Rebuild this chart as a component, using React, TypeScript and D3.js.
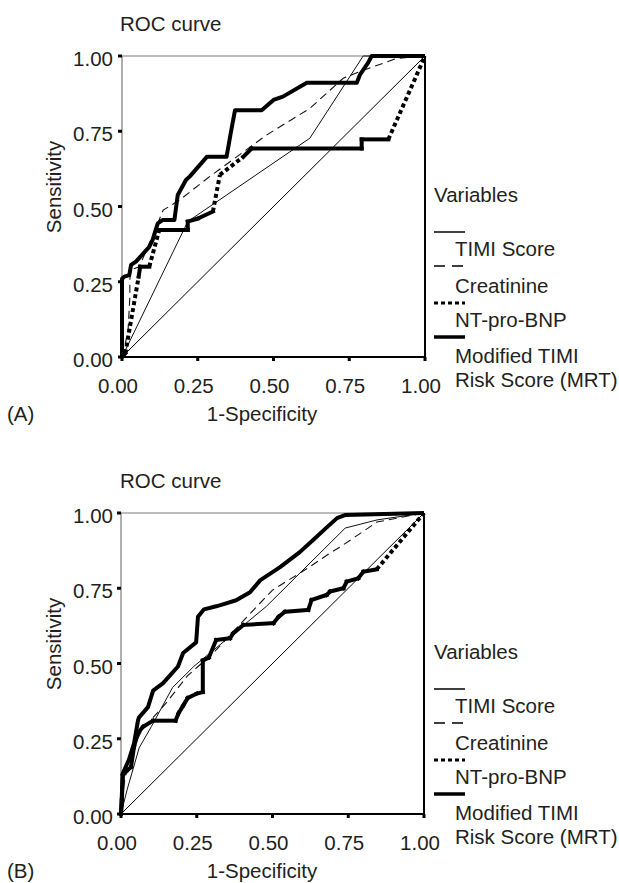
import React, { useRef, useEffect } from 'react';
import * as d3 from 'd3';

type Pt = [number, number];

// axis ticks
const tickValues = [0, 0.25, 0.5, 0.75, 1];
const tickLabels = ['0.00', '0.25', '0.50', '0.75', '1.00'];

// legend entries
const legendNames = ['TIMI Score', 'Creatinine', 'NT-pro-BNP', 'Modified TIMI|Risk Score (MRT)'];
const panelTags = ['(A)', '(B)'];

// panel A curves (1-specificity, sensitivity)
const timiA: Pt[] = [[0, 0], [0.01, 0.02], [0.217, 0.45], [0.62, 0.727], [0.796, 1], [1, 1]];
const creatA: Pt[] = [
  [0, 0], [0.01, 0.04], [0.02, 0.09], [0.026, 0.2], [0.026, 0.26], [0.03, 0.29], [0.057, 0.3],
  [0.1, 0.4], [0.136, 0.488], [0.191, 0.522], [0.29, 0.6], [0.478, 0.738], [0.62, 0.826],
  [0.73, 0.926], [0.797, 0.953], [0.907, 0.992], [1, 1],
];
const bnpA: Pt[] = [
  [0, 0], [0.011, 0.012], [0.055, 0.267], [0.06, 0.3], [0.09, 0.3], [0.123, 0.422], [0.217, 0.422],
  [0.217, 0.45], [0.25, 0.46], [0.3, 0.483], [0.323, 0.605], [0.4, 0.665], [0.428, 0.693],
  [0.791, 0.693], [0.791, 0.723], [0.879, 0.723], [1, 1],
];
const mrtA: Pt[] = [
  [0, 0], [0, 0.26], [0.008, 0.267], [0.024, 0.272], [0.03, 0.306], [0.046, 0.317], [0.09, 0.366],
  [0.101, 0.389], [0.118, 0.444], [0.134, 0.455], [0.173, 0.455], [0.184, 0.538], [0.211, 0.588],
  [0.224, 0.6], [0.28, 0.665], [0.345, 0.665], [0.36, 0.75], [0.373, 0.82], [0.461, 0.82],
  [0.5, 0.854], [0.531, 0.865], [0.61, 0.911], [0.775, 0.911], [0.785, 0.937], [0.812, 0.977],
  [0.824, 1], [1, 1],
];

// panel B curves
const timiB: Pt[] = [
  [0, 0], [0.02, 0.08], [0.06, 0.22], [0.1, 0.29], [0.17, 0.42], [0.24, 0.49], [0.48, 0.69],
  [0.74, 0.95], [0.845, 0.977], [1, 1],
];
const creatB: Pt[] = [
  [0, 0], [0.01, 0.1], [0.03, 0.2], [0.07, 0.28], [0.15, 0.37], [0.22, 0.46], [0.3, 0.53],
  [0.416, 0.655], [0.5, 0.744], [0.617, 0.817], [0.69, 0.867], [0.723, 0.887], [0.845, 0.97], [1, 1],
];
const bnpB: Pt[] = [
  [0, 0], [0.003, 0.05], [0.006, 0.13], [0.033, 0.156], [0.043, 0.223], [0.056, 0.27], [0.073, 0.29],
  [0.106, 0.31], [0.18, 0.31], [0.19, 0.335], [0.205, 0.36], [0.22, 0.385], [0.25, 0.4], [0.27, 0.405],
  [0.27, 0.51], [0.29, 0.52], [0.314, 0.578], [0.36, 0.584], [0.37, 0.6], [0.404, 0.628],
  [0.503, 0.634], [0.52, 0.655], [0.541, 0.672], [0.618, 0.678], [0.629, 0.711], [0.679, 0.728],
  [0.69, 0.739], [0.734, 0.75], [0.745, 0.772], [0.783, 0.783], [0.8, 0.805], [0.844, 0.813], [1, 1],
];
const mrtB: Pt[] = [
  [0, 0], [0.006, 0.135], [0.026, 0.18], [0.043, 0.235], [0.056, 0.31], [0.059, 0.32], [0.089, 0.355],
  [0.106, 0.41], [0.139, 0.435], [0.188, 0.49], [0.205, 0.535], [0.248, 0.57], [0.254, 0.655],
  [0.274, 0.68], [0.314, 0.69], [0.347, 0.7], [0.38, 0.71], [0.426, 0.737], [0.46, 0.777],
  [0.525, 0.82], [0.59, 0.87], [0.634, 0.91], [0.68, 0.953], [0.713, 0.983], [0.739, 0.993], [1, 1],
];

const FONT = '"Liberation Sans", Arial, Helvetica, sans-serif';
const INK = '#231f20';

const App = () => {
  const ref = useRef<SVGSVGElement>(null);

  useEffect(() => {
    const svg = d3.select(ref.current);
    svg.selectAll('*').remove();

    const panels = [
      { tag: panelTags[0], left: 122, oy: 0, timi: timiA, creat: creatA, bnp: bnpA, mrt: mrtA },
      { tag: panelTags[1], left: 121, oy: 457, timi: timiB, creat: creatB, bnp: bnpB, mrt: mrtB },
    ];

    panels.forEach((p) => {
      const top = 56 + p.oy;
      const x = d3.scaleLinear().domain([0, 1]).range([p.left, p.left + 303]);
      const y = d3.scaleLinear().domain([0, 1]).range([top + 301, top]);
      const g = svg.append('g').attr('font-family', FONT).attr('font-size', 20.5).attr('fill', INK);

      g.append('text').attr('x', 120).attr('y', 31 + p.oy).text('ROC curve');

      // frame: light left/top, heavy right/bottom
      g.append('line').attr('x1', x(0)).attr('x2', x(1)).attr('y1', y(1)).attr('y2', y(1))
        .attr('stroke', '#7a7a7a').attr('stroke-width', 1.2);
      g.append('line').attr('x1', x(0)).attr('x2', x(0)).attr('y1', y(0)).attr('y2', y(1))
        .attr('stroke', '#7a7a7a').attr('stroke-width', 1.2);
      g.append('line').attr('x1', x(1)).attr('x2', x(1)).attr('y1', y(0) + 1).attr('y2', y(1))
        .attr('stroke', '#000').attr('stroke-width', 2);
      g.append('line').attr('x1', x(0)).attr('x2', x(1) + 1).attr('y1', y(0)).attr('y2', y(0))
        .attr('stroke', '#000').attr('stroke-width', 2);

      // ticks
      g.selectAll('.yt').data(tickValues).enter().append('line')
        .attr('x1', x(0) - 4).attr('x2', x(0)).attr('y1', (d) => y(d)).attr('y2', (d) => y(d))
        .attr('stroke', '#000').attr('stroke-width', 3);
      g.selectAll('.xt').data(tickValues).enter().append('line')
        .attr('x1', (d) => x(d)).attr('x2', (d) => x(d)).attr('y1', y(0)).attr('y2', y(0) + 4)
        .attr('stroke', '#000').attr('stroke-width', 3);

      g.selectAll('.yl').data(tickValues).enter().append('text')
        .attr('x', 113).attr('y', (d) => y(d) + 10).attr('text-anchor', 'end')
        .text((d, i) => tickLabels[i]);
      g.selectAll('.xl').data(tickValues).enter().append('text')
        .attr('x', (d) => x(d) - 4).attr('y', 393 + p.oy).attr('text-anchor', 'middle')
        .text((d, i) => tickLabels[i]);

      g.append('text').attr('x', 262).attr('y', 421 + p.oy).attr('text-anchor', 'middle').text('1-Specificity');
      g.append('text').attr('x', 7).attr('y', 421 + p.oy).text(p.tag);
      g.append('text').attr('transform', `translate(61,${187 + p.oy}) rotate(-90)`)
        .attr('text-anchor', 'middle').text('Sensitivity');

      const line = d3.line<Pt>().x((d) => x(d[0])).y((d) => y(d[1]));

      // reference diagonal
      g.append('path').datum([[0, 0], [1, 1]] as Pt[]).attr('d', line)
        .attr('fill', 'none').attr('stroke', '#000').attr('stroke-width', 1);

      g.append('path').datum(p.timi).attr('d', line)
        .attr('fill', 'none').attr('stroke', '#111').attr('stroke-width', 1);
      g.append('path').datum(p.creat).attr('d', line)
        .attr('fill', 'none').attr('stroke', '#111').attr('stroke-width', 1.1).attr('stroke-dasharray', '8,5');

      // NT-pro-BNP: long slanted segments render dotted, steps stay solid
      const isDotted = (d: [Pt, Pt]) => {
        const dx = Math.abs(x(d[1][0]) - x(d[0][0]));
        const dy = Math.abs(y(d[1][1]) - y(d[0][1]));
        return dx > 2 && dy > 2 && Math.hypot(dx, dy) > 22;
      };
      const segs = d3.pairs(p.bnp);
      g.selectAll('.bnp').data(segs).enter().append('line')
        .attr('x1', (d) => x(d[0][0])).attr('y1', (d) => y(d[0][1]))
        .attr('x2', (d) => x(d[1][0])).attr('y2', (d) => y(d[1][1]))
        .attr('stroke', '#000').attr('stroke-width', 4)
        .attr('stroke-linecap', (d) => (isDotted(d) ? 'butt' : 'square'))
        .attr('stroke-dasharray', (d) => (isDotted(d) ? '4,3' : null));

      g.append('path').datum(p.mrt).attr('d', line)
        .attr('fill', 'none').attr('stroke', '#000').attr('stroke-width', 4)
        .attr('stroke-linejoin', 'round');

      // legend
      const lg = g.append('g');
      lg.append('text').attr('x', 434).attr('y', 202 + p.oy).text('Variables');
      const lineY = [232, 266, 303, 337];
      const labelY = [256, 293, 327, 363];
      const styles = [
        { w: 1.5, dash: null },
        { w: 1.5, dash: '11,7' },
        { w: 3, dash: '4,3' },
        { w: 3.5, dash: null },
      ];
      legendNames.forEach((name, i) => {
        lg.append('line').attr('x1', 434).attr('x2', 465)
          .attr('y1', lineY[i] + p.oy).attr('y2', lineY[i] + p.oy)
          .attr('stroke', '#000').attr('stroke-width', styles[i].w)
          .attr('stroke-dasharray', styles[i].dash);
        name.split('|').forEach((part, j) => {
          lg.append('text').attr('x', 455).attr('y', labelY[i] + j * 24 + p.oy).text(part);
        });
      });
    });
  }, []);

  return (
    <svg
      ref={ref}
      width={619}
      height={883}
      style={{ position: 'absolute', left: 0, top: 0, background: '#fff' }}
    />
  );
};

export default App;
